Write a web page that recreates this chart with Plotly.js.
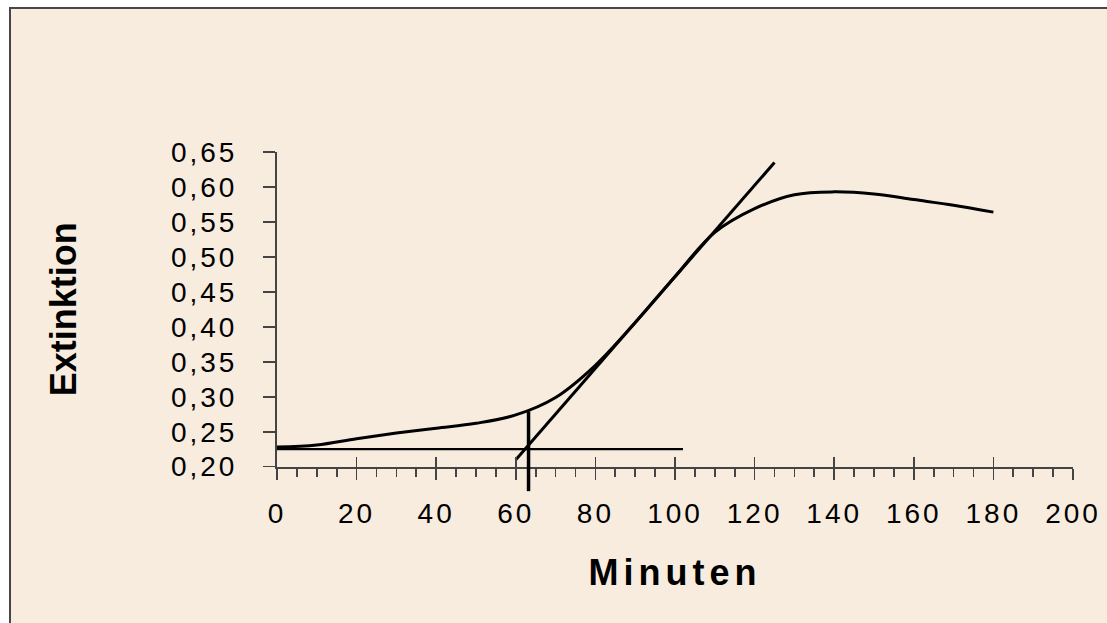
<!DOCTYPE html>
<html>
<head>
<meta charset="utf-8">
<script src="https://cdn.plot.ly/plotly-3.0.1.min.js"></script>
<style>
  html, body { margin: 0; padding: 0; background: #ffffff; overflow: hidden; }
  #chart {
    position: absolute; left: 9px; top: 7px;
    width: 1100px; height: 620px;
    border-top: 2px solid #474747; border-left: 2px solid #474747;
  }
  .xtick text, .ytick text { letter-spacing: 3px; }
  .g-xtitle text { letter-spacing: 5px; }
</style>
</head>
<body>
<div id="chart"></div>
<script>
// Data
const minutes    = [0, 10, 20, 30, 40, 50, 60, 70, 80, 90, 100, 110, 120, 130, 140, 150, 160, 170, 180];
const extinktion = [0.228, 0.231, 0.240, 0.248, 0.255, 0.262, 0.274, 0.299, 0.345, 0.406, 0.472, 0.535, 0.569, 0.589, 0.593, 0.590, 0.582, 0.574, 0.564];

const tangentX = [60, 125];
const tangentY = [0.210, 0.635];

const baseX = [0, 102];
const baseY = [0.225, 0.225];

const markX = [63.2, 63.2];
const markY = [0.279, 0.165];

const xTitle = 'Minuten';
const yTitle = 'Extinktion';

const yMin = 0.20, yMax = 0.65;
const xMin = 0, xMax = 200;

// plot-area geometry (div coordinates)
const W = 1100, H = 620;
const mL = 266, mR = W - 1061.7, mT = 143.3, mB = H - 486;
const plotH = H - mT - mB;
const f = (486 - 457.7) / plotH; // fraction of plot height below the x axis (for the mark line)
const y3Min = yMin - (yMax - yMin) * f / (1 - f);

const fontFam = '"Liberation Sans", Arial, sans-serif';
const axisCol = '#444444';

const traces = [
  { x: minutes, y: extinktion, mode: 'lines', line: { color: '#000', width: 3, shape: 'spline', smoothing: 1 },
    xaxis: 'x', yaxis: 'y', hoverinfo: 'x+y' },
  { x: tangentX, y: tangentY, mode: 'lines', line: { color: '#000', width: 3 }, xaxis: 'x', yaxis: 'y' },
  { x: baseX, y: baseY, mode: 'lines', line: { color: '#000', width: 2.2 }, xaxis: 'x2', yaxis: 'y' },
  { x: markX, y: markY, mode: 'lines', line: { color: '#000', width: 3.5 }, xaxis: 'x3', yaxis: 'y3' }
];

const layout = {
  width: W, height: H,
  paper_bgcolor: '#F8ECDF', plot_bgcolor: 'rgba(0,0,0,0)',
  margin: { l: mL, r: mR, t: mT, b: mB, pad: 0 },
  showlegend: false,
  separators: ', ',
  font: { family: fontFam, color: '#000' },
  xaxis: {
    range: [xMin, xMax], anchor: 'y', domain: [0, 1],
    showgrid: false, zeroline: false,
    showline: true, linecolor: axisCol, linewidth: 2,
    tick0: 0, dtick: 20, ticks: 'outside', ticklen: 11, tickwidth: 1.6, tickcolor: axisCol,
    minor: { tick0: 0, dtick: 5, ticks: 'outside', ticklen: 8, tickwidth: 1.6, tickcolor: axisCol },
    tickfont: { size: 28, family: fontFam, color: '#000' },
    ticklabelstandoff: 10,
    title: { text: xTitle, font: { size: 36, family: fontFam, weight: 'bold', color: '#000' }, standoff: 32 }
  },
  xaxis2: {
    range: [xMin, xMax], overlaying: 'x', anchor: 'y',
    showgrid: false, zeroline: false, showline: false,
    tick0: 0, dtick: 20, ticks: 'inside', ticklen: 10, tickwidth: 1.6, tickcolor: axisCol,
    showticklabels: false
  },
  yaxis: {
    range: [yMin, yMax], domain: [f, 1], anchor: 'x',
    showgrid: false, zeroline: false,
    showline: true, linecolor: axisCol, linewidth: 2,
    tick0: 0.2, dtick: 0.05, tickformat: '.2f',
    ticks: 'outside', ticklen: 12, tickwidth: 1.6, tickcolor: axisCol,
    tickfont: { size: 28, family: fontFam, color: '#000' },
    ticklabelstandoff: 20,
    title: { text: yTitle, font: { size: 36, family: fontFam, weight: 'bold', color: '#000' }, standoff: 83 }
  },
  xaxis3: { range: [xMin, xMax], domain: [0, 1], anchor: 'y3', visible: false, fixedrange: true },
  yaxis3: { range: [y3Min, yMax], domain: [0, 1], anchor: 'x3', visible: false, fixedrange: true }
};

Plotly.newPlot('chart', traces, layout, { displayModeBar: false, staticPlot: true });
</script>
</body>
</html>
